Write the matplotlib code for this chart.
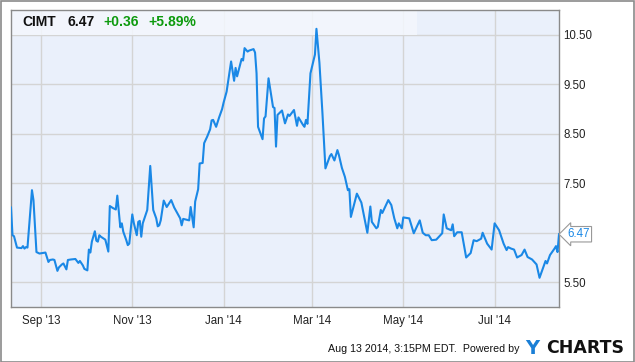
import numpy as np
import pandas as pd
import matplotlib
matplotlib.use("Agg")
import matplotlib.pyplot as plt
from matplotlib.patches import Rectangle

plt.rcParams['font.family'] = ['Liberation Sans', 'DejaVu Sans']

# CIMT daily close, days counted from the first point
start_date = "2013-08-12"
day_offsets = [
    0, 1, 2, 4, 7, 8, 9, 10, 11, 14, 15, 17, 19, 23, 25, 26, 28, 29, 31, 32,
    34, 35, 36, 37, 38, 40, 43, 44, 45, 46, 48, 49, 51, 52, 53, 54, 56, 57, 58, 59,
    60, 63, 65, 66, 68, 70, 71, 73, 74, 75, 77, 78, 79, 81, 82, 84, 85, 86, 87, 88,
    91, 93, 95, 97, 98, 99, 100, 102, 104, 107, 109, 113, 114, 115, 119, 120, 122, 123, 125, 126,
    128, 129, 131, 133, 134, 135, 137, 139, 141, 142, 144, 147, 149, 150, 151, 154, 155, 156, 158, 159,
    162, 163, 164, 165, 168, 169, 170, 172, 175, 176, 177, 178, 181, 183, 185, 186, 189, 191, 192, 195,
    196, 197, 198, 200, 203, 204, 206, 208, 210, 213, 214, 216, 218, 219, 221, 223, 225, 226, 227, 231,
    234, 238, 240, 241, 244, 245, 247, 248, 252, 254, 256, 258, 259, 261, 262, 266, 269, 273, 275, 277,
    279, 281, 284, 288, 289, 291, 294, 295, 296, 298, 301, 304, 307, 309, 311, 314, 315, 318, 321, 323,
    326, 329, 331, 332, 334, 336, 338, 341, 343, 345, 348, 351, 353, 357, 358, 360, 363, 364, 365, 366,
]
prices = [
    7.01, 6.45, 6.43, 6.20, 6.19, 6.23, 6.18, 6.21, 6.20, 7.36, 7.16, 6.11, 6.08, 6.10, 5.91, 5.95, 5.96, 5.95, 5.73, 5.80,
    5.86, 5.88, 5.82, 5.76, 5.95, 5.96, 5.97, 5.93, 5.89, 5.93, 5.84, 5.77, 5.74, 6.16, 6.10, 6.32, 6.53, 6.34, 6.32, 6.45,
    6.42, 6.36, 6.12, 7.04, 7.00, 6.97, 7.25, 6.61, 6.69, 6.52, 6.35, 6.25, 6.28, 6.87, 6.70, 6.45, 6.72, 6.74, 6.42, 6.69,
    6.96, 7.85, 6.96, 6.79, 6.63, 6.65, 6.75, 7.15, 7.02, 7.16, 7.01, 6.79, 6.65, 6.78, 6.75, 7.02, 6.61, 7.13, 7.38, 7.90,
    7.91, 8.31, 8.44, 8.59, 8.77, 8.78, 8.64, 8.83, 9.00, 9.13, 9.35, 9.96, 9.57, 9.83, 9.66, 10.01, 9.98, 10.23, 10.16, 10.18,
    10.21, 10.14, 9.72, 8.64, 8.39, 8.81, 8.85, 9.62, 9.04, 9.02, 8.24, 8.88, 8.97, 8.71, 8.89, 8.86, 8.98, 8.66, 8.83, 8.68,
    8.64, 8.78, 8.70, 9.72, 10.10, 10.62, 9.93, 8.92, 7.80, 8.05, 8.09, 7.96, 8.17, 8.07, 7.81, 7.63, 7.36, 7.38, 6.82, 7.29,
    7.11, 6.50, 7.03, 6.72, 6.59, 6.62, 6.96, 6.90, 7.16, 7.06, 6.79, 6.59, 6.69, 6.59, 6.81, 6.79, 6.49, 6.75, 6.50, 6.45,
    6.45, 6.35, 6.36, 6.49, 6.87, 6.59, 6.55, 6.67, 6.43, 6.51, 6.51, 6.00, 6.09, 6.35, 6.33, 6.38, 6.50, 6.28, 6.16, 6.69,
    6.55, 6.28, 6.15, 6.21, 6.18, 6.16, 6.00, 6.05, 6.16, 6.01, 5.96, 5.86, 5.59, 5.93, 5.88, 6.05, 6.18, 6.23, 6.11, 6.47,
]
ticker = "CIMT"
last_price = "6.47"
change = "+0.36"
change_pct = "+5.89%"
y_ticks = [5.5, 6.5, 7.5, 8.5, 9.5, 10.5]
# the 6.50 label sits under the last-value tag in the original
y_tick_labels = ["5.50", "", "7.50", "8.50", "9.50", "10.50"]
x_ticks = ["2013-09-01", "2013-11-01", "2014-01-01", "2014-03-01", "2014-05-01", "2014-07-01"]
x_tick_labels = ["Sep '13", "Nov '13", "Jan '14", "Mar '14", "May '14", "Jul '14"]
footer = "Aug 13 2014, 3:15PM EDT.  Powered by"

dates = pd.Timestamp(start_date) + pd.to_timedelta(day_offsets, unit="D")

W, H = 635, 362
fig = plt.figure(figsize=(W / 100, H / 100), dpi=100)
fig.patch.set_facecolor("white")
# outer frame
fig.add_artist(Rectangle((0.5 / W, 0.5 / H), 1 - 1.5 / W, 1 - 1.5 / H, transform=fig.transFigure,
                         fill=False, edgecolor="#8a8a8a", linewidth=1.2))

ax = fig.add_axes([11 / W, 1 - 307 / H, 548 / W, 297 / H])
ax.set_facecolor("#eaf0fb")
line_color = "#1a88e6"

ax.set_ylim(5.0, 11.0)
ax.set_xlim(dates[0], dates[-1])

ax.set_yticks(y_ticks)
ax.set_yticklabels(y_tick_labels)
ax.set_xticks(pd.to_datetime(x_ticks))
ax.set_xticklabels(x_tick_labels)
ax.yaxis.tick_right()
ax.tick_params(axis="both", length=0, labelsize=8.3, colors="#222222")
ax.tick_params(axis="y", pad=3)
ax.tick_params(axis="x", pad=6)
ax.grid(True, color="#d4d4d4", linewidth=1.0)
ax.set_axisbelow(True)
for s in ax.spines.values():
    s.set_color("#8a8a8a")
    s.set_linewidth(1.0)

# lighter header band
ax.add_patch(Rectangle((0, 10.5), 0.741, 0.5, transform=ax.get_yaxis_transform(),
                       facecolor="#f4f7fd", edgecolor="none", alpha=0.85, zorder=2))

ax.plot(dates, prices, color=line_color, linewidth=1.5, zorder=3)

# header text
hy = 1 - 22 / H
fig.text(22 / W, hy, ticker, fontsize=10, fontweight="bold", color="#111111", va="center")
fig.text(67 / W, hy, last_price, fontsize=10, fontweight="bold", color="#111111", va="center")
fig.text(103 / W, hy, change, fontsize=10, fontweight="bold", color="#0d9a0d", va="center")
fig.text(148 / W, hy, change_pct, fontsize=10, fontweight="bold", color="#0d9a0d", va="center")

# last value tag
ax.annotate(last_price, xy=(1.0, prices[-1]), xycoords=ax.get_yaxis_transform(),
            xytext=(6, 0), textcoords="offset points", va="center", ha="left",
            fontsize=8.3, color=line_color, annotation_clip=False,
            bbox=dict(boxstyle="larrow,pad=0.15", facecolor="white", edgecolor="#999999", linewidth=0.8))

# footer
fig.text(520 / W, 1 - 349 / H, footer, fontsize=7.7, color="#111111", ha="right", va="center")
fig.text(525 / W, 1 - 348 / H, "Y", fontsize=14, fontweight="bold", color="#1a7fd6", va="center",
         family="DejaVu Sans")
fig.text(546 / W, 1 - 348 / H, "CHARTS", fontsize=12.5, fontweight="bold", color="#111111", va="center",
         family="DejaVu Sans")

fig.savefig("out.png", dpi=100)
